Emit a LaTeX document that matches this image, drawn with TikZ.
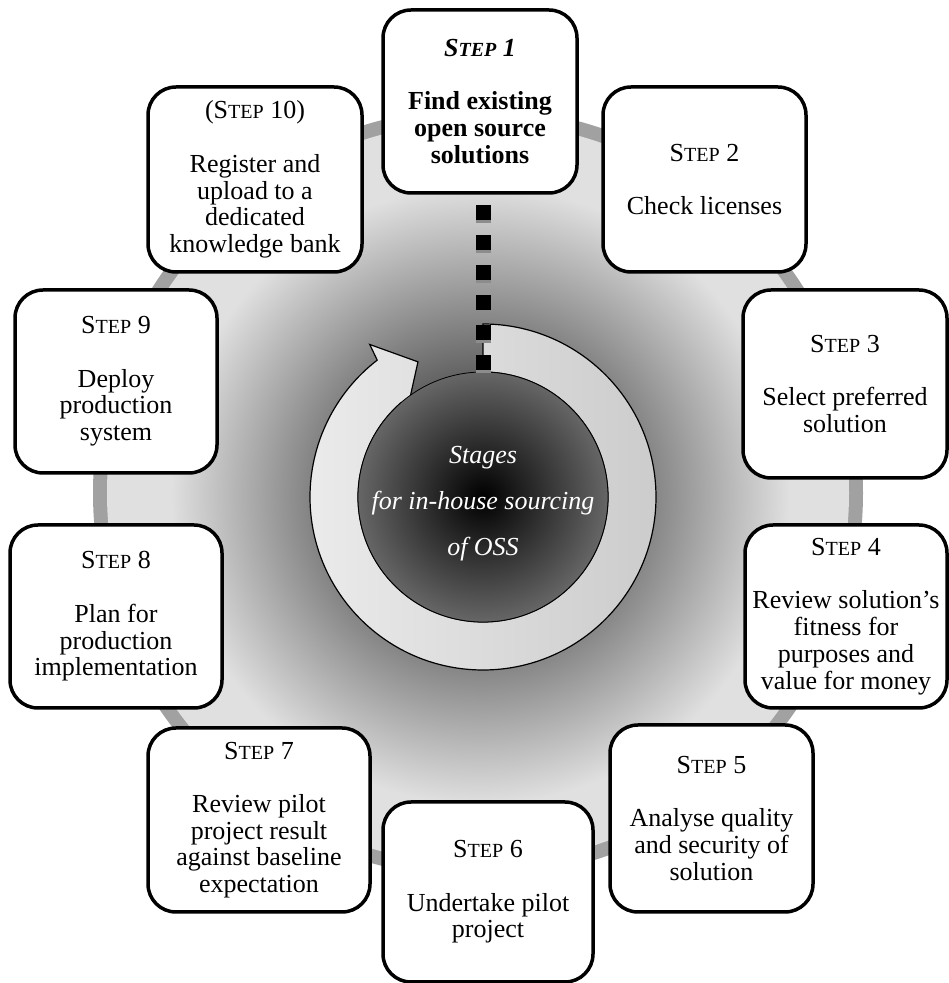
\documentclass[tikz,border=0pt]{standalone}
\usepackage{fontspec}
\setmainfont{Liberation Serif}
\newfontfamily\scfont[Scale=0.77]{Liberation Serif}
\newcommand\stepsc[1]{S{\scfont TEP} #1}
\begin{document}
\begin{tikzpicture}[x=1pt,y=1pt,
  boxframe/.style={draw=black, line width=3.5pt, rounded corners=28pt, fill=white, inner sep=0pt},
  boxtext/.style={align=center, inner sep=0pt, font=\fontsize{26}{26.7}\selectfont},
  boldtext/.style={boxtext, font=\bfseries\fontsize{26}{26.7}\selectfont},
  ringband/.style={fill=black!37},
  arrowbody/.style={left color=black!8, right color=black!20, draw=black, line width=1.2pt},
  centertext/.style={text=white, align=center, font=\itshape\fontsize{26}{46}\selectfont},
  dots/.style={line width=15pt, dash pattern=on 15pt off 15pt},
  dotshadow/.style={line width=15pt, dash pattern=on 15pt off 15pt, black!45}
]
\useasboundingbox (0,0) rectangle (949,983);
% background disk
\fill[ringband] (478,490) circle (385);
\fill[black!12] (478,490) circle (371);
\shade[inner color=black!93, outer color=black!12] (480,488) circle (310);
% circular arrow
\shade[arrowbody, shift={(483,486)}]
    (90:173) arc[start angle=90, end angle=-232.3, radius=173]
    -- (126.6:190) -- (115.7:150) -- (135:110) -- (131.1:125)
    arc[start angle=-228.9, end angle=90, radius=125] -- cycle;
% inner disk
\shade[inner color=black, outer color=black!60] (483,486) circle (125);
\draw[black, line width=0.8pt] (483,486) circle (125);
\coordinate (tailin) at (483,613);
\node[centertext] (ctr) at (483,479) {Stages\\for in-house sourcing\\of OSS};
% step boxes
\node[boxframe, minimum width=194, minimum height=183] (s1) at (480,881.5) {};
\node[boldtext] (t1) at (s1.center)
  {{\itshape S{\scfont TEP} 1}\\\mbox{}\\Find existing\\open source\\solutions};
\node[boxframe, minimum width=203, minimum height=185] (s2) at (704.5,803.5) {};
\node[boxtext] (t2) at (s2.center) {\stepsc{2}\\\mbox{}\\Check licenses};
\node[boxframe, minimum width=204, minimum height=188] (s3) at (845,599) {};
\node[boxtext] (t3) at (s3.center) {\stepsc{3}\\\mbox{}\\Select preferred\\solution};
\node[boxframe, minimum width=202, minimum height=183] (s4) at (846,366.5) {};
\node[boxtext] (t4) at (s4.center)
  {\stepsc{4}\\\mbox{}\\Review solution's\\fitness for\\purposes and\\value for money};
\node[boxframe, minimum width=203, minimum height=187] (s5) at (711.5,164.5) {};
\node[boxtext] (t5) at (s5.center)
  {\stepsc{5}\\\mbox{}\\Analyse quality\\and security of\\solution};
\node[boxframe, minimum width=210, minimum height=180] (s6) at (488,91) {};
\node[boxtext] (t6) at (s6.center) {\stepsc{6}\\\mbox{}\\Undertake pilot\\project};
\node[boxframe, minimum width=222, minimum height=184] (s7) at (259,163) {};
\node[boxtext] (t7) at (s7.center)
  {\stepsc{7}\\\mbox{}\\Review pilot\\project result\\against baseline\\expectation};
\node[boxframe, minimum width=212, minimum height=183] (s8) at (116,366.5) {};
\node[boxtext] (t8) at (s8.center)
  {\stepsc{8}\\\mbox{}\\Plan for\\production\\implementation};
\node[boxframe, minimum width=202, minimum height=183] (s9) at (116,601.5) {};
\node[boxtext] (t9) at (s9.center) {\stepsc{9}\\\mbox{}\\Deploy\\production\\system};
\node[boxframe, minimum width=214, minimum height=185] (s10) at (255,803.5) {};
\node[boxtext] (t10) at (s10.center)
  {(\stepsc{10})\\\mbox{}\\Register and\\upload to a\\dedicated\\knowledge bank};
% dotted connector
\draw[dotshadow] ([yshift=-3pt]tailin) -- ([yshift=-3pt]tailin |- s1.south);
\draw[dots] (tailin) -- (tailin |- s1.south);
\end{tikzpicture}
\end{document}
